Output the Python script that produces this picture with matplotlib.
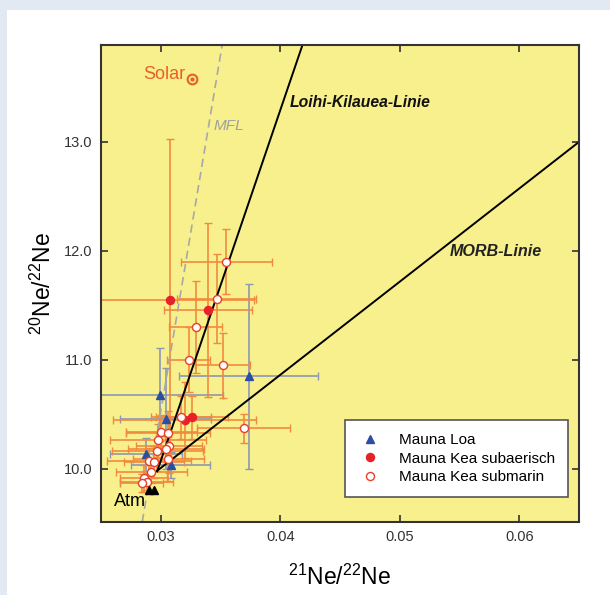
import numpy as np
import matplotlib
matplotlib.use('Agg')
import matplotlib.pyplot as plt
from matplotlib.patches import Rectangle

plt.rcParams['font.family'] = ['Liberation Sans', 'DejaVu Sans']
plt.rcParams['mathtext.fontset'] = 'custom'
plt.rcParams['mathtext.rm'] = 'Liberation Sans'
plt.rcParams['mathtext.it'] = 'Liberation Sans:italic'
plt.rcParams['mathtext.default'] = 'regular'

# Mauna Loa (blue triangles)
loa_x = [0.03736, 0.02994, 0.03042, 0.02875, 0.03083]
loa_y = [10.85, 10.68, 10.46, 10.13, 10.03]
loa_xerr = [0.0058, 0.0053, 0.0038, 0.0030, 0.0033]
loa_yerr = [0.85, 0.43, 0.46, 0.15, 0.12]

# Mauna Kea subaerisch (filled red)
kea_sa_x = [0.03078, 0.03397, 0.03200, 0.03260]
kea_sa_y = [11.55, 11.46, 10.45, 10.47]
kea_sa_xerr = [0.0070, 0.0037, 0.0060, 0.0030]
kea_sa_yerr_lo = [1.45, 0.80, 0.35, 0.20]
kea_sa_yerr_hi = [1.48, 0.80, 0.35, 0.20]

# Mauna Kea submarin (open circles)
kea_sm_x = [0.03547, 0.03467, 0.03292, 0.03236, 0.03519, 0.03167, 0.03694,
            0.03006, 0.03061, 0.02978, 0.03069, 0.03042, 0.02972, 0.03064,
            0.02903, 0.02944, 0.02922, 0.02856, 0.02883, 0.02839]
kea_sm_y = [11.90, 11.56, 11.30, 11.00, 10.95, 10.47, 10.37,
            10.34, 10.33, 10.26, 10.21, 10.18, 10.16, 10.09,
            10.07, 10.06, 9.97, 9.91, 9.88, 9.87]
kea_sm_xerr = [0.0038, 0.0033, 0.0022, 0.0018, 0.0023, 0.0025, 0.0039,
               0.0030, 0.0035, 0.0040, 0.0028, 0.0032, 0.0038, 0.0030,
               0.0035, 0.0025, 0.0030, 0.0020, 0.0022, 0.0018]
kea_sm_yerr = [0.30, 0.41, 0.42, 0.30, 0.30, 0.20, 0.13,
               0.15, 0.20, 0.15, 0.25, 0.12, 0.18, 0.20,
               0.12, 0.15, 0.10, 0.12, 0.08, 0.08]

# reference points and lines
atm_x = [0.02903, 0.02944]
atm_y = [9.80, 9.80]
solar_x, solar_y = 0.03264, 13.58
loihi_x = [0.0297, 0.04186]
loihi_y = [9.975, 13.89]
morb_x = [0.0297, 0.065]
morb_y = [9.98, 13.0]
mfl_x = [0.02845, 0.03514]
mfl_y = [9.51, 13.89]

orange = '#f08a3e'
bluegray = '#8c98b4'
red = '#e8202a'
blue = '#2b4ea2'

fig = plt.figure(figsize=(6.1, 5.95), dpi=100)
fig.patch.set_facecolor('white')
# light blue strips on top and left edge
fig.patches.append(Rectangle((0, 585/595), 1, 10/595, transform=fig.transFigure,
                             facecolor='#e2e9f3', edgecolor='none', zorder=-10))
fig.patches.append(Rectangle((0, 0), 7/610, 1, transform=fig.transFigure,
                             facecolor='#e2e9f3', edgecolor='none', zorder=-10))

ax = fig.add_axes([101/610, 1 - 522/595, 478/610, 477/595])
ax.set_facecolor('#f8f08c')
ax.set_xlim(0.025, 0.065)
ax.set_ylim(9.51, 13.89)

# lines
ax.plot(mfl_x, mfl_y, color='#a8a8a8', lw=1.2, dashes=(5, 3), zorder=2)
ax.plot(loihi_x, loihi_y, color='black', lw=1.4, zorder=2)
ax.plot(morb_x, morb_y, color='black', lw=1.4, zorder=2)

# error bars
ax.errorbar(loa_x, loa_y, xerr=loa_xerr, yerr=loa_yerr, fmt='none',
            ecolor=bluegray, elinewidth=1.2, capsize=3, zorder=1.5)
ax.errorbar(kea_sm_x, kea_sm_y, xerr=kea_sm_xerr, yerr=kea_sm_yerr, fmt='none',
            ecolor=orange, elinewidth=1.2, capsize=3, zorder=1.5)
ax.errorbar(kea_sa_x, kea_sa_y, xerr=kea_sa_xerr,
            yerr=[kea_sa_yerr_lo, kea_sa_yerr_hi], fmt='none',
            ecolor=orange, elinewidth=1.2, capsize=3, zorder=1.5)

# markers
ax.plot(loa_x, loa_y, '^', color=blue, ms=6, ls='none', zorder=3, label='Mauna Loa')
ax.plot(kea_sa_x, kea_sa_y, 'o', color=red, ms=5.8, ls='none', zorder=3,
        label='Mauna Kea subaerisch')
ax.plot(kea_sm_x, kea_sm_y, 'o', mfc='white', mec='#e8402a', mew=1.0, ms=5.8,
        ls='none', zorder=3, label='Mauna Kea submarin')
ax.plot(atm_x, atm_y, '^', color='black', ms=5.5, ls='none', zorder=3)

# solar symbol
ax.plot(solar_x, solar_y, 'o', mfc='none', mec='#e8602a', mew=1.5, ms=7, zorder=3)
ax.plot(solar_x, solar_y, 'o', color='#e8602a', ms=2, zorder=3)

# annotations
ax.text(0.03208, 13.62, 'Solar', color='#e8602a', fontsize=13, ha='right', va='center')
ax.text(0.03442, 13.15, 'MFL', color='#a0a0a0', fontsize=11, style='italic',
        ha='left', va='center')
ax.text(0.04083, 13.36, 'Loihi-Kilauea-Linie', fontsize=11.3, style='italic',
        fontweight='bold', ha='left', va='center', color='#111111')
ax.text(0.05417, 11.99, 'MORB-Linie', fontsize=11.6, style='italic',
        fontweight='bold', ha='left', va='center', color='#222222')
ax.text(0.02608, 9.70, 'Atm', fontsize=13, ha='left', va='center')

ax.set_xticks([0.03, 0.04, 0.05, 0.06])
ax.set_xticklabels(['0.03', '0.04', '0.05', '0.06'])
ax.set_yticks([10, 11, 12, 13])
ax.set_yticklabels(['10.0', '11.0', '12.0', '13.0'])
ax.tick_params(direction='in', top=True, right=True, length=5, width=1.2,
               labelsize=10.5, labelcolor='#333333', color='#333333', pad=6)
for s in ax.spines.values():
    s.set_linewidth(1.5)
    s.set_color('#333333')

ax.set_xlabel('$^{21}$Ne/$^{22}$Ne', fontsize=16.5, labelpad=15)
ax.set_ylabel('$^{20}$Ne/$^{22}$Ne', fontsize=16.5, labelpad=6)

leg = ax.legend(loc='lower right', bbox_to_anchor=(0.977, 0.052), fontsize=11,
                frameon=True, fancybox=False, edgecolor='#555555',
                framealpha=1, borderpad=0.85, labelspacing=0.3,
                handlelength=1.6, handletextpad=1.1, borderaxespad=0)
leg.get_frame().set_linewidth(1.2)

fig.savefig('out.png', dpi=100, facecolor=fig.get_facecolor())
